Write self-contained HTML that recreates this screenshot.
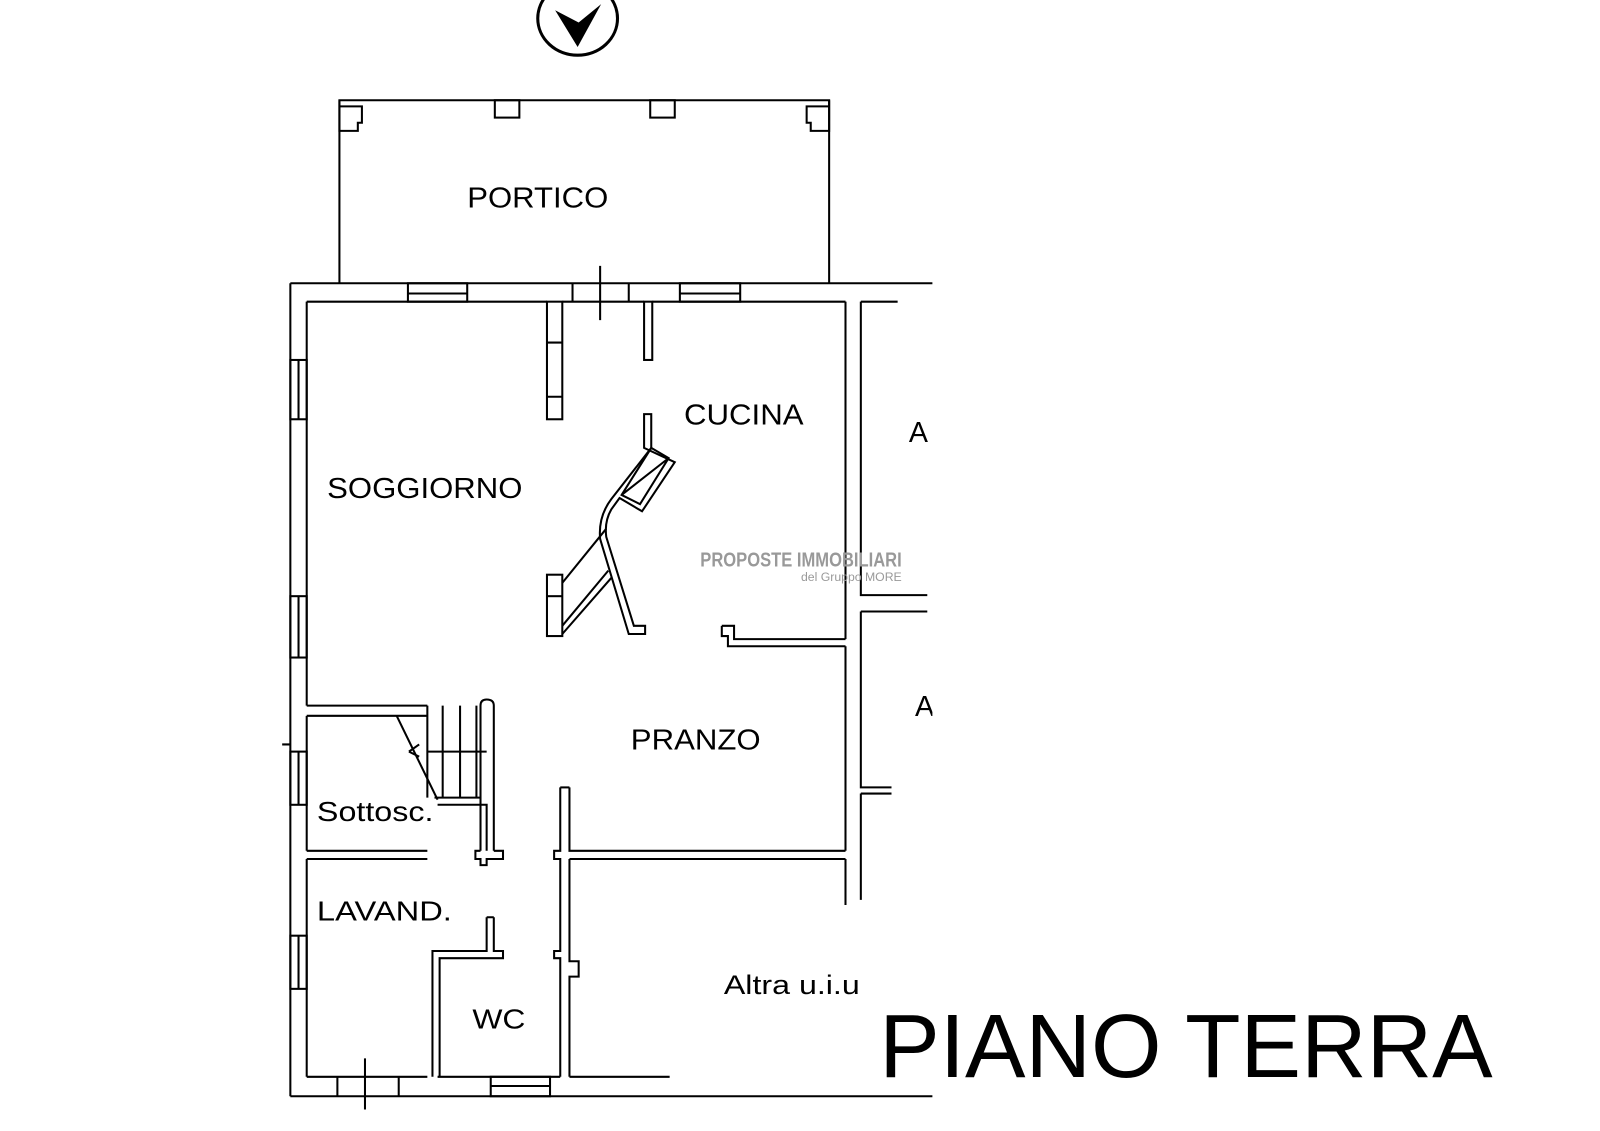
<!DOCTYPE html>
<html><head><meta charset="utf-8"><style>html,body{margin:0;padding:0;background:#fff}svg{display:block}</style></head><body>
<svg width="1600" height="1131" viewBox="0 0 1565 1106" preserveAspectRatio="none" xmlns="http://www.w3.org/2000/svg">
<rect width="1565" height="1106" fill="#fff"/>
<g fill="none" stroke="#000" stroke-width="2">
<!-- compass -->
<ellipse cx="565" cy="18" rx="39" ry="36" stroke-width="3"/>
</g>
<polygon points="543,10 565,46 588,4 566,22" fill="#000"/>
<g fill="none" stroke="#000" stroke-width="2">
<!-- portico -->
<path d="M332 277 V98 H811 V277"/>
<path d="M332 98 V128 H350 V120 H354 V104 H332"/>
<path d="M811 98 V128 H793 V120 H789 V104 H811"/>
<rect x="484" y="98" width="24" height="17"/>
<rect x="636" y="98" width="24" height="17"/>
<!-- top walls -->
<path d="M284 277 H912"/>
<path d="M300 295 H535 M550 295 H630 M638 295 H827 M842 295 H878"/>
<rect x="399" y="277" width="58" height="18"/><path d="M399 287 H457"/>
<rect x="665" y="277" width="59" height="18"/><path d="M665 287 H724"/>
<path d="M560 277 V295 M615 277 V295 M587 260 V313"/>
<rect x="535" y="295" width="15" height="115"/><path d="M535 335 H550 M535 388 H550"/>
<rect x="630" y="295" width="8" height="57"/>
<!-- left wall -->
<path d="M284 277 V1072"/>
<path d="M300 295 V690 M300 700 V832 M300 840 V1053"/>
<rect x="284" y="352" width="16" height="58"/><path d="M292 352 V410"/>
<rect x="284" y="583" width="16" height="60"/><path d="M292 583 V643"/>
<rect x="284" y="735" width="16" height="52"/><path d="M292 735 V787 M276 728 H284"/>
<rect x="284" y="915" width="16" height="52"/><path d="M292 915 V967"/>
<!-- right walls -->
<path d="M827 295 V625 M842 295 V582 H907 M842 598 H907 M842 598 V770 H872 M842 776 H872 M842 776 V880"/>
<path d="M827 632 V832 M827 840 V885"/>
<path d="M706 612 H718 V625 H827 M706 612 V622 H712 V632 H827"/>
<!-- fireplace/stair center -->
<path d="M630 405 V438 L660 452 L628 500 L606 487 L598 498 Q591 510 593 525 L620 612 H631 V620 H615 L587 527 Q585 505 598 488 L637 438 V405 Z"/>
<path d="M637 438 L654 448 L626 493 L608 484 Z M654 448 L608 484"/>
<rect x="535" y="562" width="15" height="60"/><path d="M535 583 H550"/>
<path d="M550 570 L593 517 M550 612 L595 558 M550 620 L598 565"/>
<!-- soggiorno bottom & stairs -->
<path d="M300 690 H418 M300 700 H418"/>
<path d="M418 690 V780 M433 690 V780 M450 690 V780 M466 690 V780 M418 735 H476"/>
<path d="M470 832 V690 Q470 684 476 684 Q483 684 483 690 V832"/>
<path d="M425 780 H470 M428 787 H476 V832"/>
<path d="M388 700 L428 782 M400 735 L410 728 M400 735 L410 740"/>
<path d="M470 832 H465 V840 H470 V846 H476 V840 H492 V832 H483"/>
<path d="M300 832 H418 M300 840 H418"/>
<!-- pranzo bottom / middle vertical -->
<path d="M548 770 V832 H542 V840 H548 V930 H542 V937 H548 V1053"/>
<path d="M557 770 V832 H827 M557 840 H827 M557 840 V940 H566 V955 H557 V1053"/>
<path d="M548 770 H557"/>
<!-- WC -->
<path d="M476 897 V930 H423 V1053 M483 897 V930 H492 V937 H430 V1053 M476 897 H483"/>
<!-- bottom -->
<path d="M284 1072 H912"/>
<path d="M300 1053 H418 M428 1053 H548 M557 1053 H655"/>
<rect x="480" y="1053" width="58" height="19"/><path d="M480 1062 H538"/>
<path d="M330 1053 V1072 M390 1053 V1072 M357 1035 V1085"/>
</g>
<g font-family="Liberation Sans, sans-serif" fill="#000">
<text x="457" y="203" font-size="28" textLength="138" lengthAdjust="spacingAndGlyphs">PORTICO</text>
<text x="669" y="415" font-size="28" textLength="117" lengthAdjust="spacingAndGlyphs">CUCINA</text>
<text x="320" y="487" font-size="28" textLength="191" lengthAdjust="spacingAndGlyphs">SOGGIORNO</text>
<text x="617" y="733" font-size="28" textLength="127" lengthAdjust="spacingAndGlyphs">PRANZO</text>
<text x="310" y="803" font-size="27" textLength="114" lengthAdjust="spacingAndGlyphs">Sottosc.</text>
<text x="310" y="900" font-size="27" textLength="132" lengthAdjust="spacingAndGlyphs">LAVAND.</text>
<text x="462" y="1006" font-size="27" textLength="52" lengthAdjust="spacingAndGlyphs">WC</text>
<text x="708" y="972" font-size="26" textLength="133" lengthAdjust="spacingAndGlyphs">Altra u.i.u</text>
<text x="889" y="432" font-size="28">A</text>
<text x="895" y="700" font-size="28">A</text>
<text x="860" y="1053" font-size="88" textLength="600" lengthAdjust="spacingAndGlyphs">PIANO TERRA</text>
<text x="685" y="554" font-size="20" fill="#999" font-weight="bold" textLength="197" lengthAdjust="spacingAndGlyphs">PROPOSTE IMMOBILIARI</text>
<text x="882" y="568" font-size="12" fill="#999" text-anchor="end">del Gruppo MORE</text>
</g>
<rect x="912" y="380" width="60" height="360" fill="#fff"/>
</svg>
</body></html>
